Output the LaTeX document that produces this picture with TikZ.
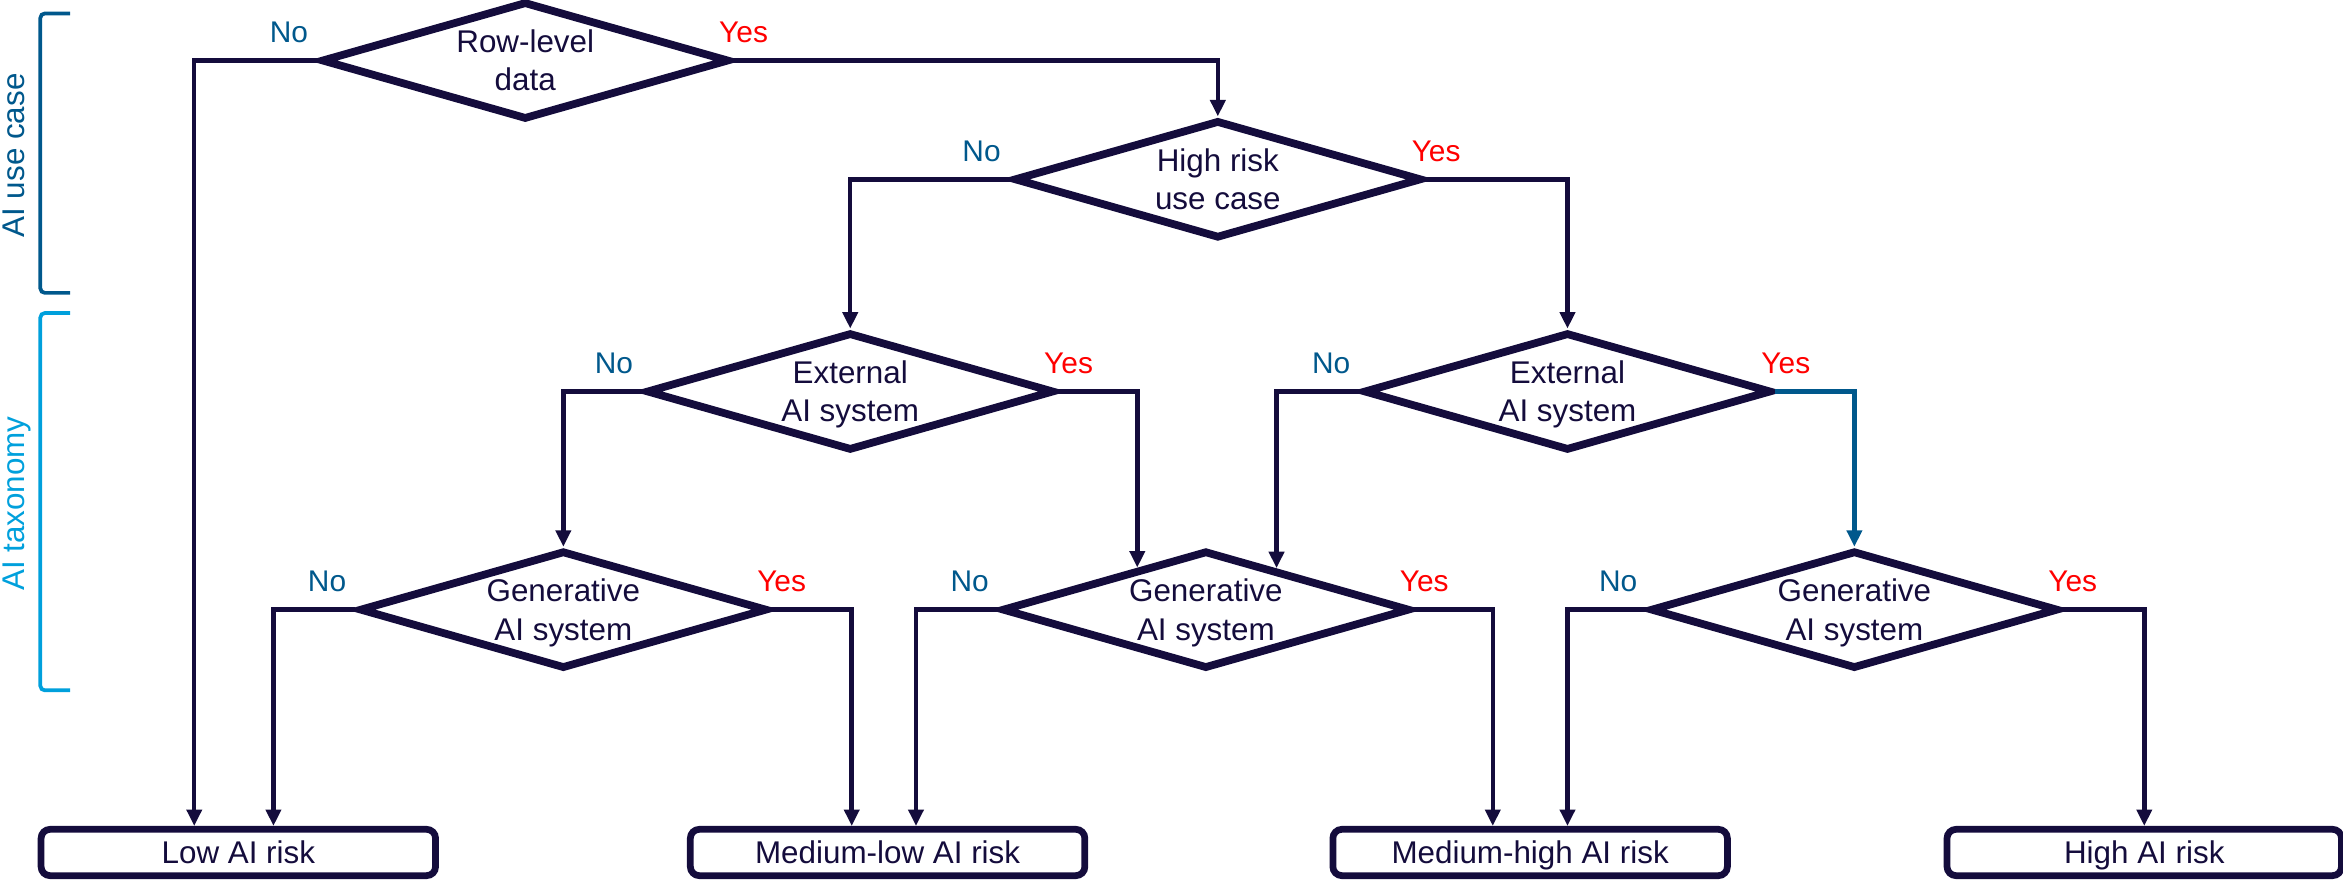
\documentclass[tikz,border=0pt]{standalone}
\usepackage{fontspec}
\setmainfont{Liberation Sans}
\usetikzlibrary{shapes.geometric,arrows.meta,calc}
\definecolor{navy}{HTML}{140C3C}
\definecolor{noblue}{HTML}{00588C}
\definecolor{yesred}{HTML}{FF0000}
\definecolor{taxblue}{HTML}{00A0DC}

\begin{document}
\begin{tikzpicture}[x=1pt,y=-1pt,
  decision/.style={diamond, draw=navy, line width=5.2pt, fill=white,
    minimum width=273pt, minimum height=79pt, inner sep=0pt, aspect=3.4,
    align=center, text=navy, font=\fontsize{21}{25.5}\selectfont, text depth=0pt},
  outcome/.style={rectangle, rounded corners=6pt, draw=navy, line width=4.5pt,
    fill=white, minimum width=264pt, minimum height=31pt, inner sep=0pt,
    text=navy, font=\fontsize{21}{24}\selectfont, text height=15pt, text depth=0pt},
  conn/.style={draw=navy, line width=3pt, -{Triangle[length=11pt,width=10pt]}},
  nolab/.style={anchor=base, text=noblue, font=\fontsize{20}{24}\selectfont},
  yeslab/.style={anchor=base, text=yesred, font=\fontsize{20}{24}\selectfont},
  bracket/.style={line width=2.5pt, rounded corners=3pt},
  sidelab/.style={rotate=90, anchor=base, font=\fontsize{21}{24}\selectfont}
]
\useasboundingbox (0,0) rectangle (1568,589);

% side brackets
\draw[bracket, draw=noblue] (47,9) -| (27,196) -- (47,196);
\draw[bracket, draw=taxblue] (47,209.5) -| (27,462) -- (47,462);
\node[sidelab, text=noblue] (uselab) at (16.5,104) {AI use case};
\node[sidelab, text=taxblue] (taxlab) at (16.5,337) {AI taxonomy};

% decisions
\node[decision] (D1) at (351.5,40.5) {Row-level\\data};
\node[decision] (D2) at (815,120) {High risk\\use case};
\node[decision] (D3) at (569,262) {External\\AI system};
\node[decision] (D4) at (1049,262) {External\\AI system};
\node[decision] (D5) at (377,408) {Generative\\AI system};
\node[decision] (D6) at (807,408) {Generative\\AI system};
\node[decision] (D7) at (1241,408) {Generative\\AI system};

% outcomes
\node[outcome] (low) at (159.5,570.5) {Low AI risk};
\node[outcome] (mlow) at (594,570.5) {Medium-low AI risk};
\node[outcome] (mhigh) at (1024,570.5) {Medium-high AI risk};
\node[outcome] (high) at (1435,570.5) {High AI risk};

% connectors
\draw[conn] (D1.east) -| (D2.north);
\draw[conn] (D1.west) -| ([xshift=-29.5pt]low.north);
\draw[conn] (D2.west) -| (D3.north);
\draw[conn] (D2.east) -| (D4.north);
\draw[conn] (D3.west) -| (D5.north);
\draw[conn] (D3.east) -| ($(D6.north)!0.33!(D6.west)$);
\draw[conn] (D4.west) -| ($(D6.north)!0.34!(D6.east)$);
\draw[conn, draw=noblue] (D4.east) -| (D7.north);
\draw[conn] (D5.west) -| ([xshift=23.5pt]low.north);
\draw[conn] (D5.east) -| ([xshift=-24pt]mlow.north);
\draw[conn] (D6.west) -| ([xshift=19pt]mlow.north);
\draw[conn] (D6.east) -| ([xshift=-25pt]mhigh.north);
\draw[conn] (D7.west) -| ([xshift=25pt]mhigh.north);
\draw[conn] (D7.east) -| (high.north);

% branch labels
\foreach \d in {D1,D2,D3,D4,D5,D6,D7}{
  \node[nolab] (\d no) at ([xshift=-19pt,yshift=12pt]\d.west) {No};
  \node[yeslab] (\d yes) at ([xshift=7pt,yshift=12pt]\d.east) {Yes};
}
\end{tikzpicture}
\end{document}
